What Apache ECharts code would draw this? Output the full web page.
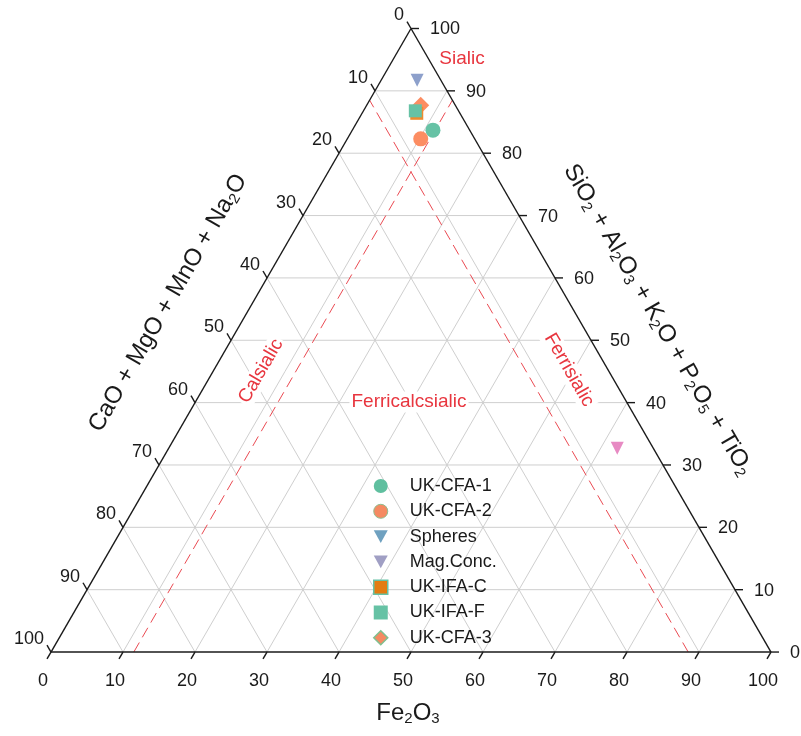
<!DOCTYPE html>
<html>
<head>
<meta charset="utf-8">
<script src="https://cdn.jsdelivr.net/npm/echarts@6/dist/echarts.min.js"></script>
<style>
  html, body { margin: 0; padding: 0; background: #fff; }
  #chart { width: 801px; height: 736px; }
</style>
</head>
<body>
<div id="chart"></div>
<script>
// Sample compositions in wt%: [Fe2O3, SiO2+Al2O3+K2O+P2O5+TiO2, CaO+MgO+MnO+Na2O]
const ukCfa1   = [[11.2, 83.7, 5.1]];
const ukCfa2   = [[10.2, 82.3, 7.5]];
const spheres  = [[5.0, 91.7, 3.3]];
const magConc  = [[62.3, 32.7, 5.0]];
const ukIfaC   = [[7.6, 86.4, 6.0]];
const ukIfaF   = [[7.2, 86.8, 6.0]];
const ukCfa3   = [[7.5, 87.7, 4.8]];

const seriesNames = ['UK-CFA-1', 'UK-CFA-2', 'Spheres', 'Mag.Conc.', 'UK-IFA-C', 'UK-IFA-F', 'UK-CFA-3'];

// Axis ticks (percent) shared by all three sides
const tickValues = [0, 10, 20, 30, 40, 50, 60, 70, 80, 90, 100];

// Class boundaries: Fe2O3 = 11.5 % and CaO+MgO+MnO+Na2O = 11.5 %
const feBoundary = 11.5;
const caBoundary = 11.5;

const H = Math.sqrt(3) / 2;
const FONT = '"Liberation Sans", Arial, Helvetica, sans-serif';
const RED = '#e8363f';

// Ternary (Fe2O3, SiO2 group) -> cartesian (x, y) on a unit equilateral triangle
function toXY(fe, si) {
  return [fe / 100 + si / 200, (si / 100) * H];
}

function frameRender(params, api) {
  const P = (fe, si) => api.coord(toXY(fe, si));
  const kids = [];
  const seg = (a, b, style) => kids.push({ type: 'line', shape: { x1: a[0], y1: a[1], x2: b[0], y2: b[1] }, style });
  const gridStyle = { stroke: '#cfcfcf', lineWidth: 1 };

  // interior grid
  tickValues.forEach(v => {
    if (v === 0 || v === 100) return;
    seg(P(0, v), P(100 - v, v), gridStyle);           // constant SiO2 group
    seg(P(v, 0), P(v, 100 - v), gridStyle);           // constant Fe2O3
    seg(P(100 - v, 0), P(0, 100 - v), gridStyle);     // constant CaO group
  });

  // class boundaries
  const dash = { stroke: RED, lineWidth: 1, lineDash: [11, 6], opacity: 0.9 };
  seg(P(feBoundary, 0), P(feBoundary, 100 - feBoundary), dash);
  seg(P(100 - caBoundary, 0), P(0, 100 - caBoundary), dash);

  // triangle frame
  const edge = { stroke: '#1a1a1a', lineWidth: 1.4 };
  seg(P(0, 0), P(100, 0), edge);
  seg(P(100, 0), P(0, 100), edge);
  seg(P(0, 100), P(0, 0), edge);

  const L = 8;
  const txt = (x, y, s, align, valign) => kids.push({
    type: 'text', x, y,
    style: { text: s, fill: '#1a1a1a', font: '18px ' + FONT, align, verticalAlign: valign }
  });
  tickValues.forEach(v => {
    // Fe2O3 (bottom)
    const b = P(v, 0);
    seg(b, [b[0] - 0.5 * L, b[1] + H * L], edge);
    txt(b[0] - 8, b[1] + 29, String(v), 'center', 'middle');
    // SiO2 group (right)
    const r = P(100 - v, v);
    seg(r, [r[0] + L, r[1]], edge);
    txt(r[0] + 19, r[1] + 1, String(v), 'left', 'middle');
    // CaO group (left)
    const l = P(0, 100 - v);
    seg(l, [l[0] - 0.5 * L, l[1] - H * L], edge);
    txt(l[0] - 7, l[1] - 13, String(v), 'right', 'middle');
  });

  return { type: 'group', children: kids };
}

const chart = echarts.init(document.getElementById('chart'), null, { renderer: 'canvas' });

const markerStyles = [
  { data: ukCfa1,  symbol: 'circle', size: 15, color: '#66c2a5', z: 5 },
  { data: ukCfa2,  symbol: 'circle', size: 15, color: '#fc8d62', z: 6 },
  { data: spheres, symbol: 'triangle', size: 13, color: '#8da0cb', rotate: 180, z: 5 },
  { data: magConc, symbol: 'triangle', size: 13, color: '#e78ac3', rotate: 180, z: 5 },
  { data: ukIfaC,  symbol: 'rect', size: 13, color: '#ee8b2e', z: 4 },
  { data: ukIfaF,  symbol: 'rect', size: 13, color: '#66c2a5', z: 5 },
  { data: ukCfa3,  symbol: 'diamond', size: 17, color: '#fc8d62', z: 3 }
];

const triDown = 'path://M0,0 L10,0 L5,9 Z';
const legendItems = [
  { name: 'UK-CFA-1', icon: 'circle', itemStyle: { color: '#5fbf9f' } },
  { name: 'UK-CFA-2', icon: 'circle', itemStyle: { color: '#f58a62', borderColor: '#8fbf90', borderWidth: 1 } },
  { name: 'Spheres', icon: triDown, itemStyle: { color: '#6fa1c0' } },
  { name: 'Mag.Conc.', icon: triDown, itemStyle: { color: '#a09fc4' } },
  { name: 'UK-IFA-C', icon: 'rect', itemStyle: { color: '#e37c12', borderColor: '#66c2a5', borderWidth: 1.5 } },
  { name: 'UK-IFA-F', icon: 'rect', itemStyle: { color: '#66c2a5' } },
  { name: 'UK-CFA-3', icon: 'diamond', itemStyle: { color: '#f58a62', borderColor: '#7fbf8f', borderWidth: 1.5 } }
];

const scatterSeries = markerStyles.map((m, i) => ({
  name: seriesNames[i],
  type: 'scatter',
  coordinateSystem: 'cartesian2d',
  symbol: m.symbol,
  symbolSize: m.size,
  symbolRotate: m.rotate || 0,
  z: m.z,
  itemStyle: { color: m.color, opacity: 1 },
  emphasis: { disabled: true },
  data: m.data.map(d => toXY(d[0], d[1]))
}));

const sub = { fontSize: 15, fontFamily: FONT, fill: '#1a1a1a', padding: [12, 0, 0, 0] };
const main = { fontSize: 24, fontFamily: FONT, fill: '#1a1a1a' };
const regionText = (text, x, y, rotation) => ({
  type: 'text', x, y, rotation: rotation || 0, z: 10,
  style: { text, fill: RED, font: '19px ' + FONT, align: 'center', verticalAlign: 'middle', backgroundColor: '#ffffff', padding: [1, 2] }
});

chart.setOption({
  animation: false,
  backgroundColor: '#ffffff',
  grid: { left: 51, top: 28.5, width: 720, height: 720 * H },
  xAxis: { type: 'value', min: 0, max: 1, show: false },
  yAxis: { type: 'value', min: 0, max: H, show: false },
  legend: {
    orient: 'vertical',
    left: 368,
    top: 472,
    itemWidth: 14,
    itemHeight: 14,
    itemGap: 7.3,
    data: legendItems,
    textStyle: { fontSize: 18, fontFamily: FONT, color: '#1a1a1a', padding: [0, 0, 0, 17] },
    selectedMode: false
  },
  graphic: [
    { type: 'text', x: 408, y: 713, style: { text: '{m|Fe}{s|2}{m|O}{s|3}', rich: { m: main, s: sub }, align: 'center', verticalAlign: 'middle' } },
    { type: 'text', x: 168, y: 303, rotation: Math.PI / 3,
      style: { text: '{m|CaO + MgO + MnO + Na}{s|2}{m|O}', rich: { m: main, s: sub }, align: 'center', verticalAlign: 'middle' } },
    { type: 'text', x: 658, y: 320, rotation: -Math.PI / 3,
      style: { text: '{m|SiO}{s|2}{m| + Al}{s|2}{m|O}{s|3}{m| + K}{s|2}{m|O + P}{s|2}{m|O}{s|5}{m| + TiO}{s|2}', rich: { m: main, s: sub }, align: 'center', verticalAlign: 'middle' } },
    regionText('Sialic', 462, 59),
    regionText('Calsialic', 261, 371, Math.PI / 3),
    regionText('Ferricalcsialic', 409, 402),
    regionText('Ferrisialic', 569, 370, -Math.PI / 3)
  ],
  series: [
    { type: 'custom', coordinateSystem: 'cartesian2d', clip: false, silent: true, z: 1, renderItem: frameRender, data: [[0, 0]] },
    ...scatterSeries
  ]
});
</script>
</body>
</html>
